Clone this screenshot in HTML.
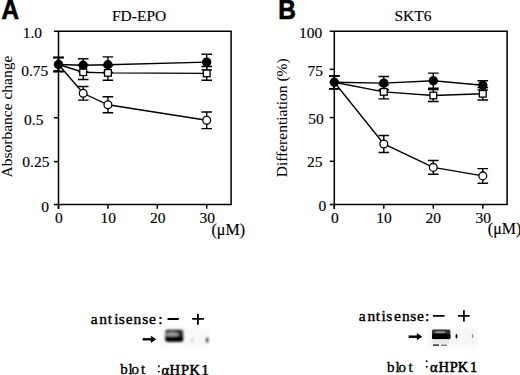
<!DOCTYPE html>
<html><head><meta charset="utf-8"><style>
html,body{margin:0;padding:0;background:#fff;width:520px;height:375px;overflow:hidden}
svg{display:block}
.s{font-family:"Liberation Serif",serif;font-size:15.5px;fill:#000;stroke:#000;stroke-width:0.15px}
.r{stroke-width:0.05px}
.sa{font-family:"Liberation Serif",serif;font-size:15px;fill:#000;stroke:#000;stroke-width:0.35px}
.sb{font-family:"Liberation Serif",serif;font-size:14.5px;fill:#000;stroke:#000;stroke-width:0.55px}
.b{font-family:"Liberation Sans",sans-serif;font-weight:bold;font-size:23.5px;fill:#000;stroke:#000;stroke-width:0.6px}
</style></head><body>
<svg width="520" height="375" viewBox="0 0 520 375">
<rect width="520" height="375" fill="#fff"/>
<text class="b" transform="translate(1.6,19.2) scale(1.03,1.14)">A</text>
<text class="b" transform="translate(278.3,19) scale(1.04,1.14)">B</text>
<text class="s" x="112" y="21.3">FD-EPO</text>
<text class="s" x="394.5" y="20.7">SKT6</text>
<!-- Panel A y labels -->
<text class="s" x="22.7" y="38.4">1.0</text>
<text class="s" x="21.2" y="75.8">0.75</text>
<text class="s" x="24" y="124.9">0.5</text>
<text class="s" x="22.3" y="166.8">0.25</text>
<text class="s" x="41.3" y="211.5">0</text>
<!-- Panel A x labels -->
<text class="s" x="55" y="223">0</text>
<text class="s" x="100.5" y="223">10</text>
<text class="s" x="150" y="223">20</text>
<text class="s" x="199.6" y="223">30</text>
<text class="s" x="211.5" y="235" style="font-size:16px">(&#956;M)</text>
<text class="s r" transform="translate(12,177.5) rotate(-90)">Absorbance change</text>
<!-- Panel B y labels -->
<text class="s" x="299" y="38.4">100</text>
<text class="s" x="307.6" y="75.6">75</text>
<text class="s" x="308.2" y="123.6">50</text>
<text class="s" x="307" y="167">25</text>
<text class="s" x="318.4" y="211">0</text>
<!-- Panel B x labels -->
<text class="s" x="331" y="223">0</text>
<text class="s" x="376.3" y="223">10</text>
<text class="s" x="425.5" y="223">20</text>
<text class="s" x="475.5" y="223">30</text>
<text class="s" x="487.8" y="233.8" style="font-size:16px">(&#956;M)</text>
<text class="s r" transform="translate(287,177.3) rotate(-90)">Differentiation (%)</text>
<path d="M53.9,31.2H231.1V204.5H53.9M58.5,31.2V209.0" fill="none" stroke="#000" stroke-width="1.5"/>
<path d="M53.9,70.8H58.5" stroke="#000" stroke-width="1.5"/>
<path d="M53.9,117.8H58.5" stroke="#000" stroke-width="1.5"/>
<path d="M53.9,161.6H58.5" stroke="#000" stroke-width="1.5"/>
<path d="M58.5,204.5V208.8" stroke="#000" stroke-width="1.5"/>
<path d="M107.9,204.5V208.8" stroke="#000" stroke-width="1.5"/>
<path d="M157.3,204.5V208.8" stroke="#000" stroke-width="1.5"/>
<path d="M206.7,204.5V208.8" stroke="#000" stroke-width="1.5"/>
<path d="M58.5,57.5V71.5M53.2,57.5H63.8M53.2,71.5H63.8" fill="none" stroke="#000" stroke-width="1.4"/>
<path d="M83.2,58.7V71.9M77.9,58.7H88.5M77.9,71.9H88.5" fill="none" stroke="#000" stroke-width="1.4"/>
<path d="M107.9,56.9V72.5M102.6,56.9H113.2M102.6,72.5H113.2" fill="none" stroke="#000" stroke-width="1.4"/>
<path d="M206.7,54.3V69.9M201.4,54.3H212.0M201.4,69.9H212.0" fill="none" stroke="#000" stroke-width="1.4"/>
<path d="M58.5,57.5V71.5M53.2,57.5H63.8M53.2,71.5H63.8" fill="none" stroke="#000" stroke-width="1.4"/>
<path d="M83.2,64.9V79.5M77.9,64.9H88.5M77.9,79.5H88.5" fill="none" stroke="#000" stroke-width="1.4"/>
<path d="M107.9,65.5V80.3M102.6,65.5H113.2M102.6,80.3H113.2" fill="none" stroke="#000" stroke-width="1.4"/>
<path d="M206.7,66.5V80.3M201.4,66.5H212.0M201.4,80.3H212.0" fill="none" stroke="#000" stroke-width="1.4"/>
<path d="M58.5,57.5V71.5M53.2,57.5H63.8M53.2,71.5H63.8" fill="none" stroke="#000" stroke-width="1.4"/>
<path d="M83.2,86.5V100.1M77.9,86.5H88.5M77.9,100.1H88.5" fill="none" stroke="#000" stroke-width="1.4"/>
<path d="M107.9,96.8V112.8M102.6,96.8H113.2M102.6,112.8H113.2" fill="none" stroke="#000" stroke-width="1.4"/>
<path d="M206.7,112.0V128.6M201.4,112.0H212.0M201.4,128.6H212.0" fill="none" stroke="#000" stroke-width="1.4"/>
<path d="M58.5,64.5 L83.2,65.3 L107.9,64.7 L206.7,62.1" fill="none" stroke="#000" stroke-width="1.4"/>
<path d="M58.5,64.5 L83.2,72.2 L107.9,72.9 L206.7,73.4" fill="none" stroke="#000" stroke-width="1.4"/>
<path d="M58.5,64.5 L83.2,93.3 L107.9,104.8 L206.7,120.3" fill="none" stroke="#000" stroke-width="1.4"/>
<rect x="79.8" y="68.9" width="6.8" height="6.6" fill="#fff" stroke="#000" stroke-width="1.3"/>
<rect x="104.5" y="69.6" width="6.8" height="6.6" fill="#fff" stroke="#000" stroke-width="1.3"/>
<rect x="203.3" y="70.1" width="6.8" height="6.6" fill="#fff" stroke="#000" stroke-width="1.3"/>
<circle cx="83.2" cy="93.3" r="3.9" fill="#fff" stroke="#000" stroke-width="1.3"/>
<circle cx="107.9" cy="104.8" r="3.9" fill="#fff" stroke="#000" stroke-width="1.3"/>
<circle cx="206.7" cy="120.3" r="3.9" fill="#fff" stroke="#000" stroke-width="1.3"/>
<circle cx="58.5" cy="64.5" r="4.7" fill="#000"/>
<circle cx="83.2" cy="65.3" r="4.7" fill="#000"/>
<circle cx="107.9" cy="64.7" r="4.7" fill="#000"/>
<circle cx="206.7" cy="62.1" r="4.7" fill="#000"/>
<path d="M334.3,75.7V88.7M329.0,75.7H339.6M329.0,88.7H339.6" fill="none" stroke="#000" stroke-width="1.4"/>
<path d="M383.8,76.5V89.7M378.5,76.5H389.1M378.5,89.7H389.1" fill="none" stroke="#000" stroke-width="1.4"/>
<path d="M433.3,73.1V88.3M428.0,73.1H438.6M428.0,88.3H438.6" fill="none" stroke="#000" stroke-width="1.4"/>
<path d="M482.8,80.7V89.9M477.5,80.7H488.1M477.5,89.9H488.1" fill="none" stroke="#000" stroke-width="1.4"/>
<path d="M334.3,75.7V88.7M329.0,75.7H339.6M329.0,88.7H339.6" fill="none" stroke="#000" stroke-width="1.4"/>
<path d="M383.8,84.9V98.9M378.5,84.9H389.1M378.5,98.9H389.1" fill="none" stroke="#000" stroke-width="1.4"/>
<path d="M433.3,89.5V101.5M428.0,89.5H438.6M428.0,101.5H438.6" fill="none" stroke="#000" stroke-width="1.4"/>
<path d="M482.8,87.6V100.0M477.5,87.6H488.1M477.5,100.0H488.1" fill="none" stroke="#000" stroke-width="1.4"/>
<path d="M334.3,75.7V88.7M329.0,75.7H339.6M329.0,88.7H339.6" fill="none" stroke="#000" stroke-width="1.4"/>
<path d="M383.8,135.5V152.5M378.5,135.5H389.1M378.5,152.5H389.1" fill="none" stroke="#000" stroke-width="1.4"/>
<path d="M433.3,160.5V174.3M428.0,160.5H438.6M428.0,174.3H438.6" fill="none" stroke="#000" stroke-width="1.4"/>
<path d="M482.8,168.6V183.2M477.5,168.6H488.1M477.5,183.2H488.1" fill="none" stroke="#000" stroke-width="1.4"/>
<path d="M334.3,82.2 L383.8,83.1 L433.3,80.7 L482.8,85.3" fill="none" stroke="#000" stroke-width="1.4"/>
<path d="M334.3,82.2 L383.8,91.9 L433.3,95.5 L482.8,93.8" fill="none" stroke="#000" stroke-width="1.4"/>
<path d="M334.3,82.2 L383.8,144.0 L433.3,167.4 L482.8,175.9" fill="none" stroke="#000" stroke-width="1.4"/>
<rect x="380.4" y="88.6" width="6.8" height="6.6" fill="#fff" stroke="#000" stroke-width="1.3"/>
<rect x="429.9" y="92.2" width="6.8" height="6.6" fill="#fff" stroke="#000" stroke-width="1.3"/>
<rect x="479.4" y="90.5" width="6.8" height="6.6" fill="#fff" stroke="#000" stroke-width="1.3"/>
<circle cx="383.8" cy="144.0" r="3.9" fill="#fff" stroke="#000" stroke-width="1.3"/>
<circle cx="433.3" cy="167.4" r="3.9" fill="#fff" stroke="#000" stroke-width="1.3"/>
<circle cx="482.8" cy="175.9" r="3.9" fill="#fff" stroke="#000" stroke-width="1.3"/>
<circle cx="334.3" cy="82.2" r="4.7" fill="#000"/>
<circle cx="383.8" cy="83.1" r="4.7" fill="#000"/>
<circle cx="433.3" cy="80.7" r="4.7" fill="#000"/>
<circle cx="482.8" cy="85.3" r="4.7" fill="#000"/>
<path d="M329.7,31.2H507.1V204.4H329.7M334.3,31.2V208.9" fill="none" stroke="#000" stroke-width="1.5"/>
<path d="M329.7,69.3H334.3" stroke="#000" stroke-width="1.5"/>
<path d="M329.7,117.6H334.3" stroke="#000" stroke-width="1.5"/>
<path d="M329.7,161.3H334.3" stroke="#000" stroke-width="1.5"/>
<path d="M334.3,204.4V208.7" stroke="#000" stroke-width="1.5"/>
<path d="M383.8,204.4V208.7" stroke="#000" stroke-width="1.5"/>
<path d="M433.3,204.4V208.7" stroke="#000" stroke-width="1.5"/>
<path d="M482.8,204.4V208.7" stroke="#000" stroke-width="1.5"/>


<defs>
<filter id="bl" x="-20%" y="-50%" width="140%" height="200%"><feGaussianBlur stdDeviation="0.8"/></filter>
<filter id="bl3" x="-20%" y="-50%" width="140%" height="200%"><feGaussianBlur stdDeviation="0.6"/></filter>
<filter id="bl2" x="-20%" y="-50%" width="140%" height="200%"><feGaussianBlur stdDeviation="1.5"/></filter>
</defs>
<!-- blot A bands -->
<rect x="160" y="328.5" width="50" height="18" fill="#f8f8f8" filter="url(#bl2)"/>
<g filter="url(#bl)">
<rect x="165.4" y="329.8" width="17.8" height="12" rx="2" fill="#2a2a2a"/>
<ellipse cx="172.3" cy="334.4" rx="6.5" ry="2.1" fill="#a0a0a0"/>
<rect x="165.4" y="336.6" width="17.8" height="5" rx="2" fill="#000"/>
<ellipse cx="192" cy="340.2" rx="1.2" ry="2" fill="#c8c8c8"/>
<ellipse cx="207.2" cy="340.1" rx="1.1" ry="2.6" fill="#1a1a1a"/>
</g>
<!-- blot B bands -->
<rect x="428" y="328" width="50" height="19" fill="#f8f8f8" filter="url(#bl2)"/>
<g filter="url(#bl3)">
<rect x="432" y="329.6" width="18.4" height="9.6" rx="1.5" fill="#333"/>
<ellipse cx="440" cy="332.3" rx="5.5" ry="1.2" fill="#8a8a8a"/>
<rect x="432" y="333.8" width="18.4" height="5.2" rx="1.5" fill="#000"/>
<rect x="432.5" y="339.6" width="17" height="3.9" fill="#e8e8e8"/>
<rect x="433" y="344.4" width="6" height="1.4" fill="#222"/>
<rect x="441" y="344.6" width="6" height="1.2" fill="#666"/>
<rect x="455.6" y="329" width="0.8" height="15" fill="#e8e8e8"/>
<rect x="472.4" y="329" width="0.8" height="15" fill="#ececec"/>
<ellipse cx="456.5" cy="336.2" rx="0.9" ry="2.2" fill="#111"/>
<ellipse cx="472.6" cy="336.1" rx="0.9" ry="2" fill="#999"/>
</g>
<!-- Blot A -->
<text class="s" x="90.74 99.36 107.71 114.23 118.85 125.78 133.41 142.19 148.97 158.16" y="323.9" style="font-size:15.5px;stroke-width:0.4px">antisense:</text>
<path d="M167.5,319H178.8M192.2,318.9H203.9M197.9,313.8V324.7" stroke="#000" stroke-width="1.8"/>
<path d="M142.7,339.3H152" stroke="#000" stroke-width="2.4"/>
<path d="M150.9,335.7L156.2,339.3L150.9,342.9Z" fill="#000"/>
<text class="sa" x="120.2 128.4 131.6 140.9" y="374.2">blot</text>
<circle cx="158.9" cy="366.2" r="0.95"/><circle cx="158.9" cy="371.6" r="0.95"/>
<text class="sb" x="161.6 169.4 181 189.4 201.6" y="374.6">&#945;HPK1</text>
<!-- Blot B -->
<text class="s" x="358.84 367.46 375.81 381.53 386.15 393.88 401.91 410.29 417.07 425.06" y="321.3" style="font-size:15.5px;stroke-width:0.4px">antisense:</text>
<path d="M432.9,315.9H444.6M458.1,315.9H469.7M463.9,310.3V321.5" stroke="#000" stroke-width="1.8"/>
<path d="M408.6,336.7H418" stroke="#000" stroke-width="2.5"/>
<path d="M416.8,333.1L422.3,336.7L416.8,340.2Z" fill="#000"/>
<text class="sa" x="386.9 395.6 398.6 408.4" y="371.6">blot</text>
<circle cx="426.7" cy="361.3" r="0.95"/><circle cx="426.7" cy="366.8" r="0.95"/>
<text class="sb" x="430 438.5 449.8 457.7 470.1" y="371.8">&#945;HPK1</text>
</svg>
</body></html>
